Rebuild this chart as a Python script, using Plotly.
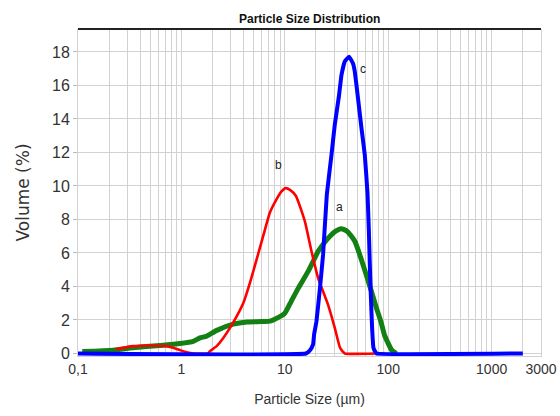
import math
import plotly.graph_objects as go

# ---- data ----
size_a = [0.11, 0.22, 0.34, 0.62, 0.97, 1.3, 1.51, 1.75, 2.2, 3.17, 4.3, 5.5, 7.16, 8.95, 10.0, 11.5, 13.5,
          16.8, 18.8, 21.0, 24.0, 27.3, 31.0, 35.0, 40.0, 47.5, 55.0, 62.0, 68.0, 77.0, 85.0, 92.0, 100.0,
          108.0, 116.0, 120.0]
vol_a = [0.12, 0.2, 0.34, 0.48, 0.6, 0.73, 0.93, 1.03, 1.38, 1.75, 1.88, 1.9, 1.93, 2.2, 2.4, 3.1, 3.9,
         4.9, 5.5, 6.1, 6.6, 7.0, 7.3, 7.45, 7.3, 6.7, 5.6, 4.6, 3.8, 2.7, 1.9, 1.1, 0.6,
         0.2, 0.05, 0.0]

size_b = [0.23, 0.34, 0.50, 0.72, 0.83, 0.97, 1.12, 1.3, 1.8, 1.89, 2.19, 2.54, 2.95, 3.41, 3.96, 4.59,
          5.33, 6.17, 7.16, 8.3, 9.2, 10.2, 11.3, 12.8, 15.6, 18.1, 21.0, 26.2, 30.4, 34.2, 36.5, 38.0, 75.0]
vol_b = [0.25, 0.44, 0.48, 0.44, 0.34, 0.2, 0.08, 0.0, 0.0, 0.14, 0.44, 0.93, 1.53, 2.2, 3.0, 4.2,
         5.6, 7.0, 8.4, 9.2, 9.65, 9.87, 9.75, 9.4, 7.9, 6.1, 4.5, 2.9, 1.53, 0.34, 0.1, 0.0, 0.0]

size_c = [0.1, 16.0, 17.44, 18.76, 19.19, 20.23, 21.78, 23.44, 25.47, 28.27, 30.41, 33.48, 35.32, 38.02,
          41.8, 45.7, 47.5, 51.0, 55.1, 59.3, 63.0, 64.8, 66.2, 67.8, 69.8, 71.9, 75.0, 77.0, 2000.0]
vol_c = [0.0, 0.0, 0.18, 0.54, 1.13, 1.93, 3.81, 5.9, 9.48, 11.86, 13.65, 15.44, 16.63, 17.44,
         17.72, 17.3, 16.82, 15.24, 13.45, 11.86, 9.58, 7.49, 5.5, 3.52, 1.53, 0.34, 0.1, 0.0, 0.0]

labels = ["a", "b", "c"]
x_major = [0.1, 1, 10, 100, 1000, 3000]
x_major_text = ["0,1", "1", "10", "100", "1000", "3000"]
y_ticks = [0, 2, 4, 6, 8, 10, 12, 14, 16, 18]

# gridline positions: 1..9 per decade
grid_vals = []
for dec in [0.1, 1, 10, 100, 1000]:
    for m in range(1, 10):
        v = round(m * dec, 6)
        if v <= 3000:
            grid_vals.append(v)
grid_vals.append(3000)
grid_text = [x_major_text[x_major.index(v)] if v in x_major else "" for v in grid_vals]

narrow = "Liberation Sans, Arial, sans-serif"

fig = go.Figure()
series = [(size_a, vol_a, "#138013", 5), (size_b, vol_b, "#ff0000", 2.6), (size_c, vol_c, "#0000ff", 4)]
smooth = [0.5, 0.5, 0.3]
for (xs, ys, col, w), lab, sm in zip(series, labels, smooth):
    fig.add_trace(go.Scatter(x=xs, y=ys, mode="lines",
                             line=dict(color=col, width=w, shape="spline", smoothing=sm),
                             name=lab, showlegend=False, hoverinfo="skip"))

# curve labels near each peak (log axis: annotation x in log10 units)
shifts = {"a": (-2, 22), "b": (-7, 23), "c": (14, -12)}
for (xs, ys, col, w), lab in zip(series, labels):
    i = ys.index(max(ys))
    dx, dy = shifts[lab]
    fig.add_annotation(x=math.log10(xs[i]), y=ys[i], text=lab, showarrow=False, xshift=dx, yshift=dy,
                       font=dict(family=narrow, size=12, color="#222"))

fig.add_shape(type="line", xref="paper", yref="paper", x0=0, x1=1, y0=1, y1=1,
              line=dict(color="#222", width=2))

fig.update_layout(
    width=560, height=416,
    margin=dict(l=78, r=19, t=29, b=59.5, pad=0),
    paper_bgcolor="white", plot_bgcolor="white",
    title=dict(text="<b>Particle Size Distribution</b>", x=0.553, xanchor="center",
               y=0.955, yanchor="middle",
               font=dict(family=narrow, size=12, color="#111")),
    xaxis=dict(type="log", range=[-1, 3.4771], tickmode="array", tickvals=grid_vals,
               ticktext=grid_text, showgrid=True, gridcolor="#d2d2d2", gridwidth=1,
               showline=True, linecolor="#d2d2d2", mirror=False, ticks="", zeroline=False,
               automargin=False,
               tickfont=dict(family=narrow, size=14, color="#333"),
               title=dict(text="Particle Size (µm)", standoff=18,
                          font=dict(family=narrow, size=14, color="#333"))),
    yaxis=dict(range=[-0.15, 19.37], tickmode="array", tickvals=y_ticks,
               showgrid=True, gridcolor="#d2d2d2", gridwidth=1, zeroline=False,
               showline=True, linecolor="#d2d2d2", mirror=True, automargin=False,
               ticks="outside", ticklen=4, tickcolor="#bbb",
               tickfont=dict(family=narrow, size=16, color="#333"),
               title=dict(text="Volume (%)", standoff=18,
                          font=dict(family="DejaVu Sans, Verdana, sans-serif", size=17, color="#333"))),
)

fig.write_html("out.html", config={"displayModeBar": False},
               post_script="document.body.style.margin='0';")
